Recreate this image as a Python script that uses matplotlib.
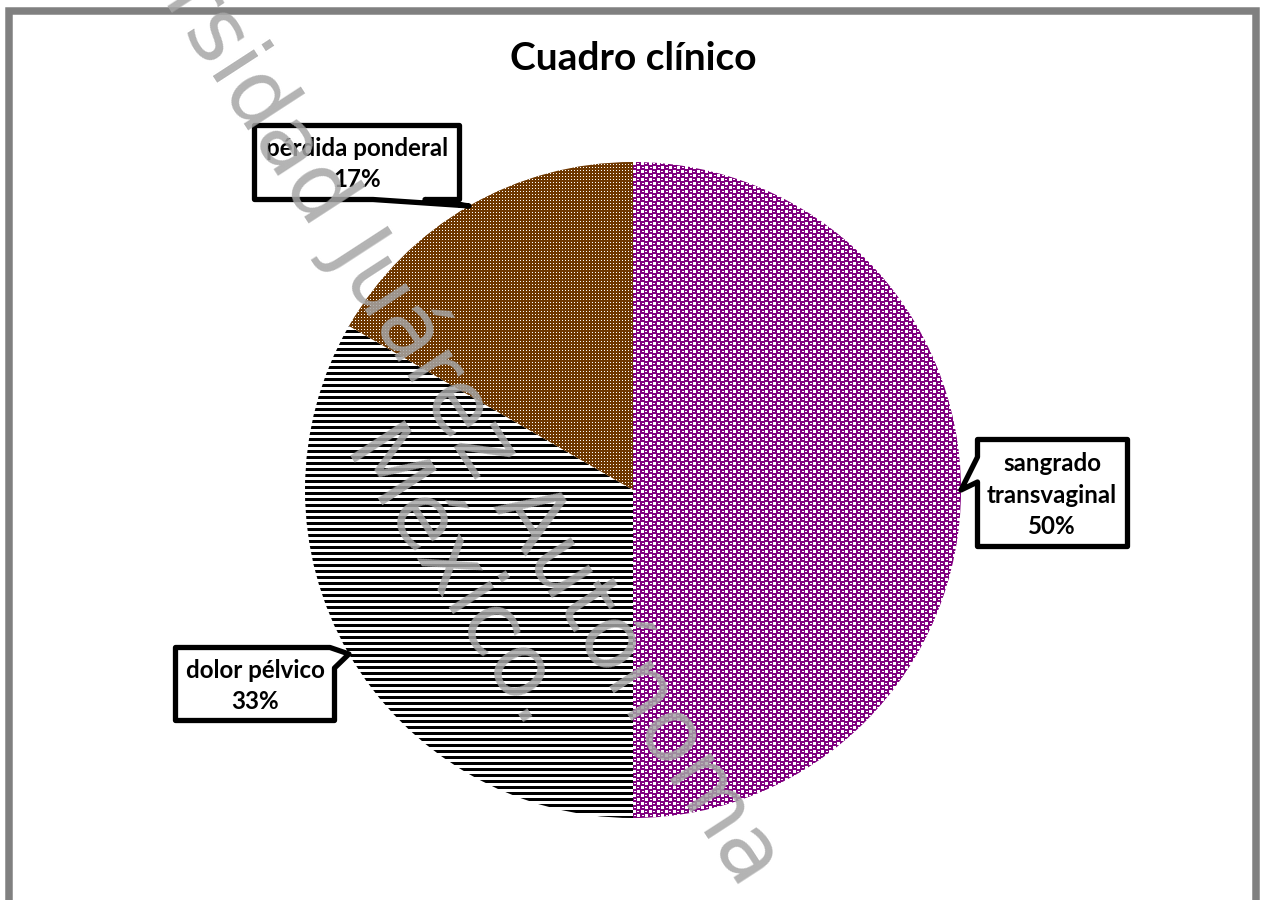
import numpy as np
import matplotlib
matplotlib.use('Agg')
import matplotlib.pyplot as plt
from matplotlib.patches import Polygon, Rectangle

W, H = 1268, 900

TITLE = 'Cuadro clínico'
LABELS = ['sangrado\ntransvaginal', 'dolor pélvico', 'pérdida ponderal']
COUNTS = [3, 2, 1]
WATERMARK_1 = 'Universidad Juárez Autónoma'
WATERMARK_2 = 'México.'

PURPLE = np.array([128, 0, 128]) / 255
BROWN = np.array([110, 55, 0]) / 255
BLACK = np.array([0, 0, 0]) / 255

plt.rcParams['font.family'] = ['Lato', 'DejaVu Sans']


def fx(x):
    return x / W


def fy(y):
    return 1 - y / H


def tile_from_rows(rows, ink):
    t = np.ones((len(rows), len(rows[0]), 3))
    for i, r in enumerate(rows):
        for j, c in enumerate(r):
            if c == 'X':
                t[i, j] = ink
    return t


def make_texture(tile, n):
    reps = (n // tile.shape[0] + 1, n // tile.shape[1] + 1, 1)
    return np.tile(tile, reps)[:n, :n]


tile_purple = tile_from_rows([
    '...XXXXX',
    '...X..XX',
    '...XXXXX',
    'XXXXXXXX',
    'XXXX...X',
    'X..X...X',
    'XXXX...X',
    'XXXXXXXX',
], PURPLE)
tile_lines = tile_from_rows([
    'X',
    'X',
    'X',
    '.',
    '.',
    '.',
], BLACK)
tile_brown = tile_from_rows([
    'XXX',
    'XXX',
    'XX.',
], BROWN)

fig = plt.figure(figsize=(W / 100, H / 100), dpi=100)

# outer frame
fig.add_artist(Rectangle((fx(9), fy(902)), fx(1256) - fx(9), fy(10.5) - fy(902),
                         transform=fig.transFigure, fill=False,
                         edgecolor='#808080', linewidth=5.4))

# pie
cx, cy, r = 633, 490, 328
ax = fig.add_axes([fx(cx - r), fy(cy + r), 2 * r / W, 2 * r / H])
wedges, _ = ax.pie(COUNTS, startangle=90, counterclock=False, radius=1,
                   colors=['none'] * 3, wedgeprops=dict(linewidth=0))

n = 2 * r
for wedge, tile in zip(wedges, [tile_purple, tile_lines, tile_brown]):
    im = ax.imshow(make_texture(tile, n), extent=(-1, 1, -1, 1),
                   interpolation='nearest', zorder=1)
    im.set_clip_path(wedge)
ax.set_xlim(-1, 1)
ax.set_ylim(-1, 1)
ax.axis('off')


def tip_of(wedge):
    mid = np.deg2rad((wedge.theta1 + wedge.theta2) / 2)
    return cx + r * np.cos(mid), cy - r * np.sin(mid)


tips = [tip_of(w) for w in wedges]
total = sum(COUNTS)
pcts = [f'{round(100 * c / total)}%' for c in COUNTS]

# callouts (pixel coords, y down)
callouts = [
    # sangrado transvaginal
    (lambda t: [(977.5, 439.5), (1127.5, 439.5), (1127.5, 546.5), (977.5, 546.5),
                (977.5, 482), t, (977.5, 457)],
     (1052, 495), 0),
    # dolor pelvico
    (lambda t: [(175.5, 647.5), (330, 647.5), t, (334.5, 668), (334.5, 720.5),
                (175.5, 720.5)],
     (255, 686), 1),
    # perdida ponderal
    (lambda t: [(254.5, 125.5), (459.5, 125.5), (459.5, 199.5), (425, 199.5), t,
                (373, 199.5), (254.5, 199.5)],
     (357, 164), 2),
]
for shape, center, i in callouts:
    pts = [(fx(x), fy(y)) for x, y in shape(tips[i])]
    fig.add_artist(Polygon(pts, closed=True, transform=fig.transFigure,
                           facecolor='white', edgecolor='black', linewidth=3.8,
                           joinstyle='round', zorder=5))
    fig.text(fx(center[0]), fy(center[1]), f'{LABELS[i]}\n{pcts[i]}',
             ha='center', va='center', fontsize=17.4, fontweight='bold',
             linespacing=1.45, zorder=6)

fig.text(fx(633), fy(58), TITLE, ha='center', va='center',
         fontsize=28, fontweight='bold')

# watermark
wm = dict(fontsize=64, color='#a6a6a6', alpha=0.85, rotation=-57,
          rotation_mode='anchor', va='baseline', zorder=10,
          family=['DejaVu Sans'])
fig.text(fx(741), fy(891), WATERMARK_1, ha='right', **wm)
fig.text(fx(340), fy(454), WATERMARK_2, ha='left', **wm)

fig.savefig('out.png', dpi=100, facecolor='white')
